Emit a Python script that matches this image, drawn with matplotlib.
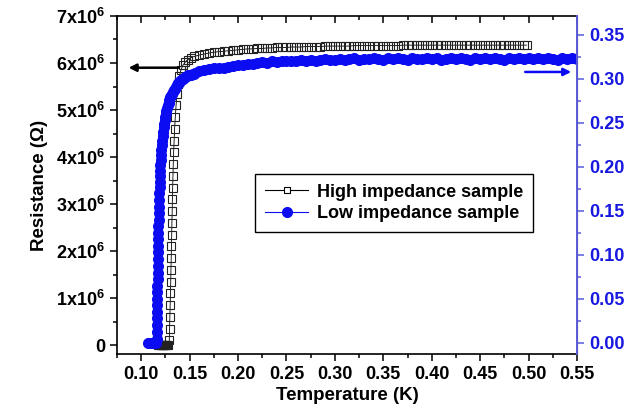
import numpy as np
import matplotlib
matplotlib.use('Agg')
import matplotlib.pyplot as plt
from matplotlib.ticker import MultipleLocator
from matplotlib.lines import Line2D

plt.rcParams['font.family'] = ['Liberation Sans', 'DejaVu Sans']
plt.rcParams['font.weight'] = 'bold'
plt.rcParams['mathtext.fontset'] = 'custom'
plt.rcParams['mathtext.rm'] = 'Liberation Sans:bold'
plt.rcParams['mathtext.bf'] = 'Liberation Sans:bold'

# High impedance sample (left axis, 1e6 Ohm)
T_high = [0.117, 0.118, 0.119, 0.120, 0.121, 0.122, 0.123, 0.124, 0.125, 0.126,
          0.127, 0.128,
          0.1290, 0.1293, 0.1296, 0.1299, 0.1302, 0.1305, 0.1307, 0.1310, 0.1312,
          0.1315, 0.1317, 0.1320, 0.1322, 0.1325, 0.1328, 0.1331, 0.1335, 0.1340,
          0.1345, 0.1352, 0.1360, 0.1370, 0.1382, 0.1395, 0.1410, 0.1430, 0.1455,
          0.1480, 0.1510, 0.1550,
          0.160, 0.165, 0.170, 0.175, 0.180, 0.185, 0.190, 0.195, 0.200, 0.205,
          0.210, 0.215, 0.220, 0.225, 0.230, 0.235, 0.240, 0.245, 0.250, 0.255,
          0.260, 0.265, 0.270, 0.275, 0.280, 0.285, 0.290, 0.295, 0.300, 0.305,
          0.310, 0.315, 0.320, 0.325, 0.330, 0.335, 0.340, 0.345, 0.350, 0.355,
          0.360, 0.365, 0.370, 0.375, 0.380, 0.385, 0.390, 0.395, 0.400, 0.405,
          0.410, 0.415, 0.420, 0.425, 0.430, 0.435, 0.440, 0.445, 0.450, 0.455,
          0.460, 0.465, 0.470, 0.475, 0.480, 0.485, 0.490, 0.495, 0.498]
R_high = [0.0, 0.0, 0.0, 0.0, 0.0, 0.0, 0.0, 0.0, 0.0, 0.0,
          0.0, 0.0,
          0.10, 0.35, 0.60, 0.85, 1.10, 1.35, 1.60, 1.85, 2.10,
          2.35, 2.60, 2.85, 3.10, 3.35, 3.60, 3.85, 4.10, 4.35,
          4.60, 4.85, 5.10, 5.35, 5.55, 5.72, 5.85, 5.95, 6.02,
          6.07, 6.11, 6.14,
          6.17, 6.19, 6.21, 6.23, 6.24, 6.25, 6.26, 6.27, 6.28, 6.29,
          6.30, 6.30, 6.31, 6.31, 6.32, 6.32, 6.33, 6.33, 6.33, 6.34,
          6.34, 6.34, 6.35, 6.35, 6.35, 6.35, 6.36, 6.36, 6.36, 6.36,
          6.36, 6.36, 6.37, 6.37, 6.37, 6.37, 6.37, 6.37, 6.37, 6.37,
          6.37, 6.37, 6.38, 6.38, 6.38, 6.38, 6.38, 6.38, 6.38, 6.38,
          6.38, 6.38, 6.38, 6.38, 6.38, 6.38, 6.38, 6.38, 6.38, 6.38,
          6.38, 6.38, 6.38, 6.38, 6.38, 6.38, 6.38, 6.38, 6.38]

# Low impedance sample (right axis)
T_low = [0.107, 0.109, 0.111, 0.113, 0.115, 0.116,
         0.1161, 0.1162, 0.1163, 0.1164, 0.1165, 0.1166, 0.1167, 0.1168, 0.1169,
         0.1170, 0.1171, 0.1172, 0.1173, 0.1174, 0.1175, 0.1177, 0.1178, 0.1180,
         0.1181, 0.1183, 0.1185, 0.1187, 0.1189, 0.1191, 0.1193, 0.1196, 0.1199,
         0.1202, 0.1205, 0.1209, 0.1213, 0.1217, 0.1221, 0.1226, 0.1231, 0.1236,
         0.1241, 0.1247, 0.1253, 0.1260, 0.1267, 0.1274, 0.1282, 0.1290, 0.1298,
         0.1307, 0.1316, 0.1325, 0.1335, 0.1345, 0.1356, 0.1367, 0.1378, 0.1390,
         0.1402, 0.1415, 0.1428, 0.1442, 0.1456, 0.1470, 0.1485, 0.1500, 0.1515,
         0.1530, 0.1545, 0.1560,
         0.160, 0.165, 0.170, 0.175, 0.180, 0.185, 0.190, 0.195, 0.200, 0.205,
         0.210, 0.215, 0.220, 0.225, 0.230, 0.235, 0.240, 0.245, 0.250, 0.255,
         0.260, 0.265, 0.270, 0.275, 0.280, 0.285, 0.290, 0.295, 0.300, 0.305,
         0.310, 0.315, 0.320, 0.325, 0.330, 0.335, 0.340, 0.345, 0.350, 0.355,
         0.360, 0.365, 0.370, 0.375, 0.380, 0.385, 0.390, 0.395, 0.400, 0.405,
         0.410, 0.415, 0.420, 0.425, 0.430, 0.435, 0.440, 0.445, 0.450, 0.455,
         0.460, 0.465, 0.470, 0.475, 0.480, 0.485, 0.490, 0.495, 0.500, 0.505,
         0.510, 0.515, 0.520, 0.525, 0.530, 0.535, 0.540, 0.545, 0.550]
V_low = [0.0, 0.0, 0.0, 0.0, 0.0, 0.005,
         0.013, 0.020, 0.028, 0.035, 0.043, 0.050, 0.058, 0.065, 0.073,
         0.080, 0.088, 0.095, 0.103, 0.110, 0.118, 0.125, 0.133, 0.140,
         0.148, 0.155, 0.163, 0.170, 0.177, 0.183, 0.190, 0.196, 0.202,
         0.208, 0.214, 0.219, 0.225, 0.230, 0.235, 0.240, 0.245, 0.249,
         0.253, 0.257, 0.261, 0.264, 0.267, 0.270, 0.273, 0.276, 0.279,
         0.281, 0.283, 0.285, 0.287, 0.289, 0.291, 0.293, 0.295, 0.296,
         0.298, 0.299, 0.300, 0.301, 0.302, 0.303, 0.304, 0.305, 0.305,
         0.306, 0.306, 0.307,
         0.309, 0.310, 0.311, 0.312, 0.313, 0.313, 0.314, 0.315, 0.316, 0.316,
         0.317, 0.317, 0.318, 0.319, 0.318, 0.320, 0.319, 0.320, 0.321, 0.320,
         0.321, 0.322, 0.321, 0.322, 0.321, 0.322, 0.323, 0.322, 0.322, 0.323,
         0.322, 0.323, 0.324, 0.322, 0.323, 0.323, 0.324, 0.323, 0.322, 0.324,
         0.323, 0.324, 0.323, 0.322, 0.324, 0.323, 0.323, 0.324, 0.323, 0.324,
         0.322, 0.323, 0.324, 0.323, 0.324, 0.323, 0.322, 0.324, 0.323, 0.324,
         0.323, 0.324, 0.323, 0.322, 0.324, 0.323, 0.324, 0.323, 0.324, 0.323,
         0.324, 0.323, 0.324, 0.323, 0.322, 0.324, 0.323, 0.324, 0.323]

x_ticks = [0.10, 0.15, 0.20, 0.25, 0.30, 0.35, 0.40, 0.45, 0.50, 0.55]
y_ticks = [0, 1e6, 2e6, 3e6, 4e6, 5e6, 6e6, 7e6]
y_labels = ['0'] + [r'$\mathrm{%dx10^{6}}$' % i for i in range(1, 8)]
y2_ticks = [0.00, 0.05, 0.10, 0.15, 0.20, 0.25, 0.30, 0.35]

blue = '#0c0cf2'
blue_lab = '#1818e0'
blue_spine = '#5a5ad8'

fig = plt.figure(figsize=(6.3, 4.11), dpi=100)
ax1 = fig.add_axes([0.1857, 0.1387, 0.7302, 0.8224])
ax2 = ax1.twinx()

R_ohm = np.array(R_high) * 1e6
ax1.plot(T_high, R_ohm, color='black', lw=0.6, marker='s', ms=5.2,
         mfc='none', mec='#222222', mew=0.8)
ax2.plot(T_low, V_low, color=blue, lw=0.8, marker='o', ms=8,
         mfc=blue, mec=blue, mew=0)

ax1.set_xlim(0.075, 0.55)
ax1.set_ylim(-0.19e6, 7e6)
ax2.set_ylim(-0.0125, 0.3716)

ax1.set_xticks(x_ticks)
ax1.set_xticklabels(['%.2f' % v for v in x_ticks])
ax1.xaxis.set_minor_locator(MultipleLocator(0.025))
ax1.set_yticks(y_ticks)
ax1.set_yticklabels(y_labels)
ax1.yaxis.set_minor_locator(MultipleLocator(0.5e6))
ax2.set_yticks(y2_ticks)
ax2.set_yticklabels(['%.2f' % v for v in y2_ticks])
ax2.yaxis.set_minor_locator(MultipleLocator(0.025))

ax1.tick_params(axis='x', which='both', direction='out', top=True, labelsize=13,
                width=1.1)
ax1.tick_params(axis='x', which='major', length=5)
ax1.tick_params(axis='x', which='minor', length=3)
ax1.tick_params(axis='y', which='both', direction='out', labelsize=13, width=1.1)
ax1.tick_params(axis='y', which='major', length=5)
ax1.tick_params(axis='y', which='minor', length=3)
ax2.tick_params(axis='y', which='both', direction='out', colors=blue_spine,
                labelcolor=blue_lab, labelsize=13, width=1.1)
ax2.tick_params(axis='y', which='major', length=5)
ax2.tick_params(axis='y', which='minor', length=3)
# top ticks point inwards
for t in ax1.xaxis.get_major_ticks() + ax1.xaxis.get_minor_ticks():
    t.tick2line.set_marker(3)

for s in ['left', 'bottom', 'top']:
    ax1.spines[s].set_linewidth(1.2)
ax2.spines['right'].set_color(blue_spine)
ax2.spines['right'].set_linewidth(1.4)
for s in ['left', 'bottom', 'top']:
    ax2.spines[s].set_visible(False)

ax1.set_xlabel('Temperature (K)', fontsize=13.5, fontweight='bold', labelpad=3)
ax1.set_ylabel('Resistance (\u03a9)', fontsize=13.5, fontweight='bold', labelpad=6)

ax1.annotate('', xy=(0.087, 5.9e6), xytext=(0.139, 5.9e6),
             arrowprops=dict(arrowstyle='-|>', color='black', lw=1.8,
                             mutation_scale=11, shrinkA=0, shrinkB=0))
ax2.annotate('', xy=(0.544, 0.308), xytext=(0.4965, 0.308),
             arrowprops=dict(arrowstyle='-|>', color=blue, lw=1.8,
                             mutation_scale=11, shrinkA=0, shrinkB=0))

h1 = Line2D([], [], color='black', lw=0.8, marker='s', ms=5, mfc='white',
            mec='black', mew=0.8)
h2 = Line2D([], [], color=blue, lw=0.8, marker='o', ms=7, mfc=blue, mec=blue)
leg = ax2.legend([h1, h2], ['High impedance sample', 'Low impedance sample'],
                 loc='upper left', bbox_to_anchor=(0.30, 0.533), borderaxespad=0,
                 frameon=True, fancybox=False, framealpha=1, edgecolor='black',
                 handlelength=2.4, handletextpad=0.5, borderpad=0.55,
                 labelspacing=0.25, prop={'weight': 'bold', 'size': 13})
leg.get_frame().set_linewidth(1.0)

fig.savefig('out.png', dpi=100)
